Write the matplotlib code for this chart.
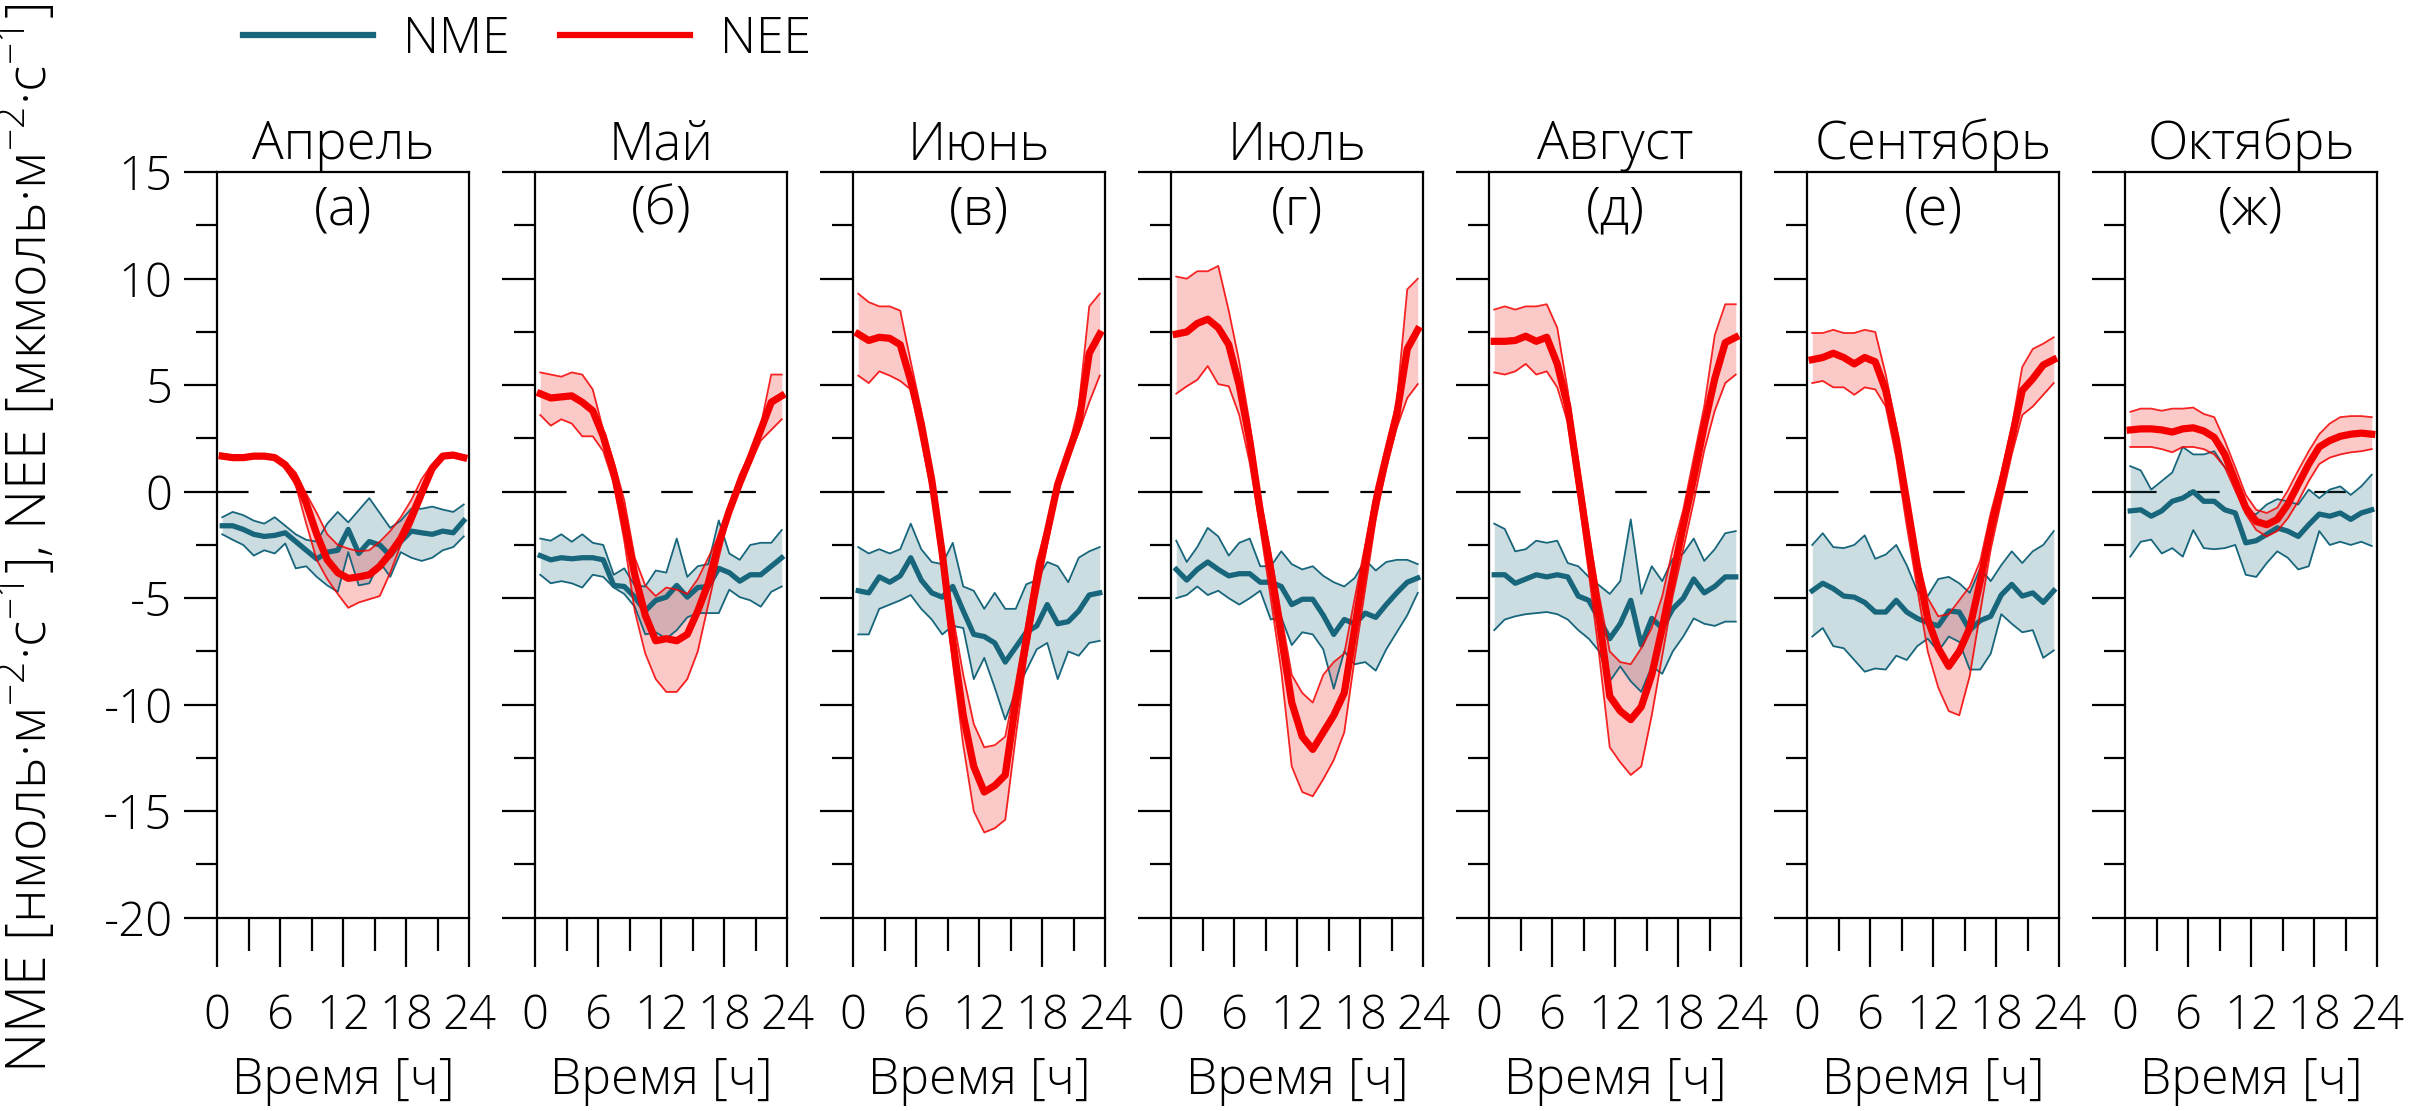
import numpy as np
import matplotlib
matplotlib.use("Agg")
import matplotlib.pyplot as plt
from matplotlib.lines import Line2D

# 1. Данные: суточный ход NME и NEE (среднее и границы интервала), часовые значения
hours = np.arange(24) + 0.5

apr_nee = [1.67, 1.6, 1.6, 1.67, 1.67, 1.6, 1.26, 0.6, -0.55, -2.0, -3.2, -3.8, -4.07, -4.0, -3.9, -3.5, -2.9, -2.2, -1.2, -0.05, 1.1, 1.67, 1.72, 1.6]
apr_nee_hi = [1.77, 1.7, 1.7, 1.77, 1.77, 1.7, 1.4, 0.9, -0.1, -1.0, -2.0, -2.5, -2.67, -2.8, -2.75, -2.35, -1.85, -1.2, -0.4, 0.6, 1.3, 1.77, 1.82, 1.7]
apr_nee_lo = [1.57, 1.5, 1.5, 1.57, 1.57, 1.5, 1.1, 0.3, -1.5, -3.2, -4.1, -4.8, -5.45, -5.2, -5.05, -4.9, -3.8, -2.5, -1.6, -0.4, 0.9, 1.57, 1.62, 1.5]
apr_nme = [-1.6, -1.6, -1.77, -2.0, -2.1, -2.05, -1.93, -2.34, -2.75, -3.16, -2.84, -2.75, -1.77, -2.9, -2.34, -2.5, -3.0, -2.34, -1.85, -1.93, -2.0, -1.85, -1.93, -1.36]
apr_nme_hi = [-1.2, -0.95, -1.1, -1.36, -1.5, -1.2, -1.6, -2.0, -2.26, -2.34, -1.5, -0.95, -1.44, -0.87, -0.3, -1.0, -1.7, -1.36, -0.8, -0.8, -0.7, -0.84, -0.95, -0.6]
apr_nme_lo = [-2.0, -2.26, -2.5, -3.0, -2.75, -2.9, -2.43, -3.6, -3.5, -4.0, -4.4, -4.7, -2.84, -4.4, -4.3, -3.3, -4.0, -2.84, -3.1, -3.25, -3.1, -2.75, -2.6, -2.1]

may_nee = [4.6, 4.4, 4.45, 4.5, 4.2, 3.8, 2.6, 0.9, -1.4, -3.9, -5.8, -7.0, -6.9, -7.0, -6.7, -5.6, -4.3, -2.4, -0.9, 0.4, 1.6, 2.9, 4.2, 4.5]
may_nee_hi = [5.6, 5.5, 5.4, 5.6, 5.5, 4.8, 2.9, 1.4, -0.4, -3.1, -4.4, -4.9, -4.5, -4.6, -4.8, -4.1, -3.1, -2.1, -0.6, 0.8, 1.8, 3.1, 5.5, 5.5]
may_nee_lo = [3.6, 3.1, 3.4, 3.2, 2.6, 2.6, 1.9, 0.4, -2.3, -5.6, -7.6, -8.8, -9.4, -9.4, -8.8, -7.5, -5.3, -3.1, -1.1, 0.25, 1.3, 2.4, 2.9, 3.4]
may_nme = [-3.0, -3.2, -3.1, -3.15, -3.1, -3.1, -3.2, -4.4, -4.45, -4.95, -5.6, -5.1, -4.95, -4.4, -4.95, -4.5, -4.45, -3.6, -3.8, -4.2, -3.9, -3.9, -3.5, -3.1]
may_nme_hi = [-2.2, -2.3, -2.0, -2.35, -2.0, -2.4, -2.5, -3.9, -3.6, -4.4, -4.45, -3.7, -3.8, -2.2, -4.0, -3.5, -3.4, -1.35, -2.9, -3.2, -2.5, -2.4, -2.4, -1.8]
may_nme_lo = [-3.9, -4.3, -4.2, -4.3, -4.5, -3.9, -4.0, -4.5, -4.8, -5.4, -6.7, -6.6, -6.9, -6.5, -5.9, -5.7, -5.7, -5.7, -4.6, -4.95, -5.1, -5.4, -4.7, -4.45]

jun_nee = [7.4, 7.1, 7.25, 7.2, 6.9, 5.2, 3.2, 0.55, -2.9, -7.0, -10.5, -12.9, -14.1, -13.8, -13.3, -9.9, -7.0, -4.1, -1.9, 0.35, 1.8, 3.2, 6.5, 7.4]
jun_nee_hi = [9.3, 8.9, 8.7, 8.7, 8.5, 6.1, 3.8, 0.75, -2.5, -5.8, -8.6, -10.9, -12.0, -11.9, -11.5, -9.0, -6.2, -3.3, -1.5, 0.35, 2.0, 4.0, 8.7, 9.3]
jun_nee_lo = [5.45, 5.1, 5.65, 5.45, 5.2, 4.8, 2.4, -0.05, -3.7, -8.0, -11.9, -15.0, -16.0, -15.8, -15.4, -11.5, -7.8, -5.0, -2.5, -0.05, 1.6, 2.8, 4.2, 5.45]
jun_nme = [-4.65, -4.75, -4.0, -4.25, -3.95, -3.1, -4.15, -4.75, -4.95, -4.45, -5.6, -6.7, -6.8, -7.1, -8.0, -7.3, -6.6, -6.3, -5.3, -6.2, -6.1, -5.6, -4.85, -4.75]
jun_nme_hi = [-2.6, -2.9, -2.7, -2.9, -2.7, -1.5, -2.7, -3.3, -3.4, -2.4, -4.45, -4.65, -5.5, -4.75, -5.5, -5.5, -4.35, -4.15, -3.3, -3.5, -4.25, -3.1, -2.8, -2.6]
jun_nme_lo = [-6.7, -6.7, -5.5, -5.3, -5.1, -4.85, -5.5, -6.0, -6.7, -6.3, -6.4, -8.8, -7.8, -9.2, -10.7, -9.4, -8.4, -7.4, -7.1, -8.8, -7.5, -7.7, -7.1, -7.0]

jul_nee = [7.4, 7.5, 7.9, 8.1, 7.7, 6.9, 5.0, 2.4, -0.9, -3.7, -6.8, -9.9, -11.5, -12.1, -11.3, -10.5, -9.45, -6.4, -3.3, -0.5, 1.6, 3.6, 6.7, 7.6]
jul_nee_hi = [10.1, 10.0, 10.35, 10.35, 10.6, 8.5, 6.1, 3.2, -0.3, -2.9, -5.8, -8.6, -9.45, -9.9, -8.6, -8.0, -7.6, -5.0, -2.5, 0.15, 2.2, 4.2, 9.5, 10.0]
jul_nee_lo = [4.6, 4.95, 5.25, 5.9, 5.05, 4.95, 3.6, 1.35, -1.7, -5.0, -8.4, -12.9, -14.1, -14.3, -13.5, -12.6, -11.3, -7.8, -4.55, -1.3, 1.15, 3.0, 4.4, 5.05]
jul_nme = [-3.65, -4.15, -3.65, -3.3, -3.65, -3.95, -3.85, -3.85, -4.25, -4.25, -4.45, -5.3, -5.05, -5.05, -5.8, -6.7, -6.0, -6.2, -5.7, -5.9, -5.3, -4.75, -4.25, -4.05]
jul_nme_hi = [-2.3, -3.3, -2.6, -1.7, -2.1, -3.0, -2.4, -2.2, -3.5, -3.5, -2.8, -3.4, -3.65, -3.5, -3.95, -4.25, -4.45, -4.05, -3.2, -3.7, -3.3, -3.2, -3.2, -3.4]
jul_nme_lo = [-5.0, -4.85, -4.45, -4.85, -4.65, -5.0, -5.3, -5.0, -4.65, -6.0, -5.9, -7.2, -6.6, -6.7, -7.4, -9.25, -7.5, -8.1, -8.0, -8.4, -7.4, -6.6, -5.8, -4.75]

aug_nee = [7.06, 7.06, 7.1, 7.3, 7.06, 7.25, 6.0, 4.0, 0.65, -2.7, -6.0, -9.6, -10.3, -10.7, -10.1, -8.6, -6.4, -4.0, -1.6, 0.65, 3.1, 5.3, 7.0, 7.25]
aug_nee_hi = [8.55, 8.7, 8.55, 8.7, 8.7, 8.8, 7.7, 4.75, 1.4, -1.95, -4.9, -7.5, -8.0, -8.1, -7.35, -6.4, -4.9, -2.7, -0.85, 1.6, 4.0, 7.35, 8.8, 8.8]
aug_nee_lo = [5.6, 5.5, 5.65, 6.0, 5.5, 5.65, 4.9, 3.25, -0.1, -3.8, -7.7, -12.0, -12.7, -13.3, -12.9, -10.5, -7.7, -4.9, -2.7, -0.45, 1.95, 3.8, 5.1, 5.5]
aug_nme = [-3.9, -3.9, -4.3, -4.1, -3.9, -4.0, -3.9, -4.0, -4.9, -5.1, -6.0, -6.9, -6.2, -5.1, -7.2, -5.95, -6.4, -5.5, -5.0, -4.1, -4.75, -4.45, -4.0, -4.0]
aug_nme_hi = [-1.5, -1.75, -2.8, -2.7, -2.3, -2.4, -2.3, -3.35, -3.5, -4.0, -4.4, -4.8, -4.2, -1.3, -4.8, -3.5, -4.2, -3.15, -2.9, -2.2, -3.25, -2.7, -1.95, -1.85]
aug_nme_lo = [-6.5, -6.0, -5.85, -5.75, -5.7, -5.65, -5.75, -6.0, -6.5, -6.9, -7.5, -8.9, -8.2, -8.9, -9.4, -8.2, -8.55, -7.5, -6.8, -5.95, -6.2, -6.3, -6.1, -6.1]

sep_nee = [6.2, 6.3, 6.5, 6.3, 6.0, 6.3, 6.1, 4.75, 2.5, -0.45, -3.45, -6.0, -7.35, -8.2, -7.5, -6.4, -4.2, -1.75, 0.3, 2.5, 4.75, 5.3, 5.95, 6.2]
sep_nee_hi = [7.45, 7.45, 7.6, 7.45, 7.45, 7.6, 7.5, 5.5, 3.05, -0.1, -3.05, -5.0, -5.85, -5.75, -5.1, -4.45, -3.25, -1.0, 0.85, 3.05, 5.85, 6.7, 6.95, 7.25]
sep_nee_lo = [5.1, 5.2, 4.9, 4.9, 4.55, 4.9, 4.8, 4.0, 1.6, -1.6, -4.55, -7.5, -9.2, -10.3, -10.5, -8.65, -5.65, -2.7, -0.45, 1.75, 3.6, 4.0, 4.55, 5.1]
sep_nme = [-4.65, -4.3, -4.55, -4.9, -4.95, -5.2, -5.65, -5.65, -5.1, -5.65, -5.95, -6.15, -6.3, -5.6, -5.65, -6.5, -6.05, -5.85, -4.85, -4.35, -4.9, -4.75, -5.2, -4.65]
sep_nme_hi = [-2.5, -1.95, -2.6, -2.65, -2.5, -2.05, -3.15, -2.95, -2.5, -3.45, -4.65, -4.9, -4.1, -4.0, -4.3, -4.75, -3.6, -4.2, -3.45, -2.8, -3.35, -2.8, -2.5, -1.85]
sep_nme_lo = [-6.8, -6.4, -7.25, -7.35, -7.9, -8.45, -8.3, -8.35, -7.7, -7.9, -7.25, -6.9, -7.5, -6.8, -7.05, -8.35, -8.35, -7.6, -5.75, -6.2, -6.6, -6.5, -7.8, -7.45]

oct_nee = [2.9, 2.95, 2.95, 2.9, 2.8, 2.95, 3.0, 2.85, 2.55, 1.75, 0.5, -0.75, -1.4, -1.55, -1.3, -0.6, 0.35, 1.3, 2.1, 2.4, 2.6, 2.7, 2.75, 2.7]
oct_nee_hi = [3.75, 3.9, 3.9, 3.8, 3.9, 3.9, 3.95, 3.65, 3.5, 2.4, 1.15, -0.15, -0.85, -1.0, -0.75, 0.05, 1.0, 1.9, 2.7, 3.2, 3.5, 3.55, 3.55, 3.5]
oct_nee_lo = [2.1, 2.1, 2.1, 2.0, 1.85, 2.1, 2.1, 2.0, 1.75, 1.15, 0.05, -1.05, -1.8, -2.1, -1.85, -1.25, -0.45, 0.5, 1.3, 1.6, 1.75, 1.85, 1.9, 2.0]
oct_nme = [-0.9, -0.85, -1.15, -0.9, -0.45, -0.3, 0.0, -0.45, -0.45, -0.85, -1.0, -2.4, -2.3, -2.0, -1.7, -1.85, -2.1, -1.55, -1.05, -1.15, -1.0, -1.3, -1.0, -0.85]
oct_nme_hi = [1.2, 1.0, 0.1, 0.5, 0.9, 2.1, 1.75, 1.75, 1.9, 1.15, 0.65, -1.0, -1.05, -0.6, -0.35, -0.45, -0.6, 0.1, -0.3, 0.1, 0.25, -0.15, 0.25, 0.8]
oct_nme_lo = [-3.05, -2.35, -2.25, -2.9, -2.65, -3.05, -1.8, -2.65, -2.7, -2.65, -2.5, -3.9, -4.0, -3.35, -2.8, -3.1, -3.65, -3.5, -1.85, -2.5, -2.35, -2.5, -2.35, -2.55]

months = ["Апрель", "Май", "Июнь", "Июль", "Август", "Сентябрь", "Октябрь"]
letters = ["(а)", "(б)", "(в)", "(г)", "(д)", "(е)", "(ж)"]
nee_data = [(apr_nee, apr_nee_lo, apr_nee_hi), (may_nee, may_nee_lo, may_nee_hi),
            (jun_nee, jun_nee_lo, jun_nee_hi), (jul_nee, jul_nee_lo, jul_nee_hi),
            (aug_nee, aug_nee_lo, aug_nee_hi), (sep_nee, sep_nee_lo, sep_nee_hi),
            (oct_nee, oct_nee_lo, oct_nee_hi)]
nme_data = [(apr_nme, apr_nme_lo, apr_nme_hi), (may_nme, may_nme_lo, may_nme_hi),
            (jun_nme, jun_nme_lo, jun_nme_hi), (jul_nme, jul_nme_lo, jul_nme_hi),
            (aug_nme, aug_nme_lo, aug_nme_hi), (sep_nme, sep_nme_lo, sep_nme_hi),
            (oct_nme, oct_nme_lo, oct_nme_hi)]

TEAL = "#17667c"
RED = "#f50000"

# 2. Общий стиль (тонкий шрифт)
plt.rcParams['font.family'] = ['Open Sans', 'DejaVu Sans']
plt.rcParams['font.weight'] = 'light'
plt.rcParams['axes.titleweight'] = 'light'
plt.rcParams['axes.labelweight'] = 'light'
plt.rcParams['mathtext.default'] = 'regular'
plt.rcParams['axes.unicode_minus'] = False

fig = plt.figure(figsize=(24.1, 11.11), dpi=100)

# 3. Панели по месяцам
for i in range(len(months)):
    ax = fig.add_axes([(217 + 318 * i) / 2410, 0.174, 252 / 2410, 0.671])
    nee, nee_lo, nee_hi = nee_data[i]
    nme, nme_lo, nme_hi = nme_data[i]

    ax.fill_between(hours, nme_lo, nme_hi, color=TEAL, alpha=0.22, lw=0, zorder=1)
    ax.fill_between(hours, nee_lo, nee_hi, color=RED, alpha=0.21, lw=0, zorder=2)
    ax.plot(hours, nme_lo, color=TEAL, lw=1.3, zorder=3)
    ax.plot(hours, nme_hi, color=TEAL, lw=1.3, zorder=3)
    ax.plot(hours, nme, color=TEAL, lw=3.8, zorder=4)
    ax.plot(hours, nee_lo, color=RED, lw=1.3, alpha=0.85, zorder=5)
    ax.plot(hours, nee_hi, color=RED, lw=1.3, alpha=0.85, zorder=5)
    ax.plot(hours, nee, color=RED, lw=5.2, zorder=6)
    ax.axhline(0, color='black', lw=1.6, ls=(0, (14.2, 14.2)), zorder=0)

    ax.set_xlim(0, 24)
    ax.set_ylim(-20, 15)
    ax.set_xticks([0, 6, 12, 18, 24])
    ax.set_xticks([3, 9, 15, 21], minor=True)
    ax.set_yticks(np.arange(-20, 16, 5))
    ax.set_yticks(np.arange(-17.5, 15, 5), minor=True)
    ax.tick_params(axis='y', which='major', direction='out', length=24, width=1.6, pad=8, labelsize=34)
    ax.tick_params(axis='y', which='minor', direction='out', length=15, width=1.6)
    ax.tick_params(axis='x', which='major', direction='out', length=35, width=1.6, pad=19, labelsize=34)
    ax.tick_params(axis='x', which='minor', direction='out', length=24, width=1.6)
    if i > 0:
        ax.tick_params(axis='y', which='both', labelleft=False)
    for sp in ax.spines.values():
        sp.set_linewidth(1.6)

    ax.set_title(months[i], fontsize=38, pad=4, fontweight='light')
    ax.text(12, 13.2, letters[i], ha='center', va='center', fontsize=39, fontweight='light')
    ax.set_xlabel("Время [ч]", fontsize=36, labelpad=11, fontweight='light')

# 4. Подпись оси Y и легенда
fig.text(0.012, 0.515, "NME [нмоль·м$^{-2}$·с$^{-1}$], NEE [мкмоль·м$^{-2}$·с$^{-1}$]",
         rotation=90, ha='center', va='center', fontsize=40, fontweight='light')

handles = [Line2D([], [], color=TEAL, lw=4.5), Line2D([], [], color=RED, lw=4.5)]
fig.legend(handles, ["NME", "NEE"], loc='center left', bbox_to_anchor=(0.101, 0.964),
           ncol=2, frameon=False, fontsize=36, handlelength=2.6, handletextpad=0.6,
           columnspacing=1.0, borderpad=0, borderaxespad=0)

fig.savefig("out.png", dpi=100)
